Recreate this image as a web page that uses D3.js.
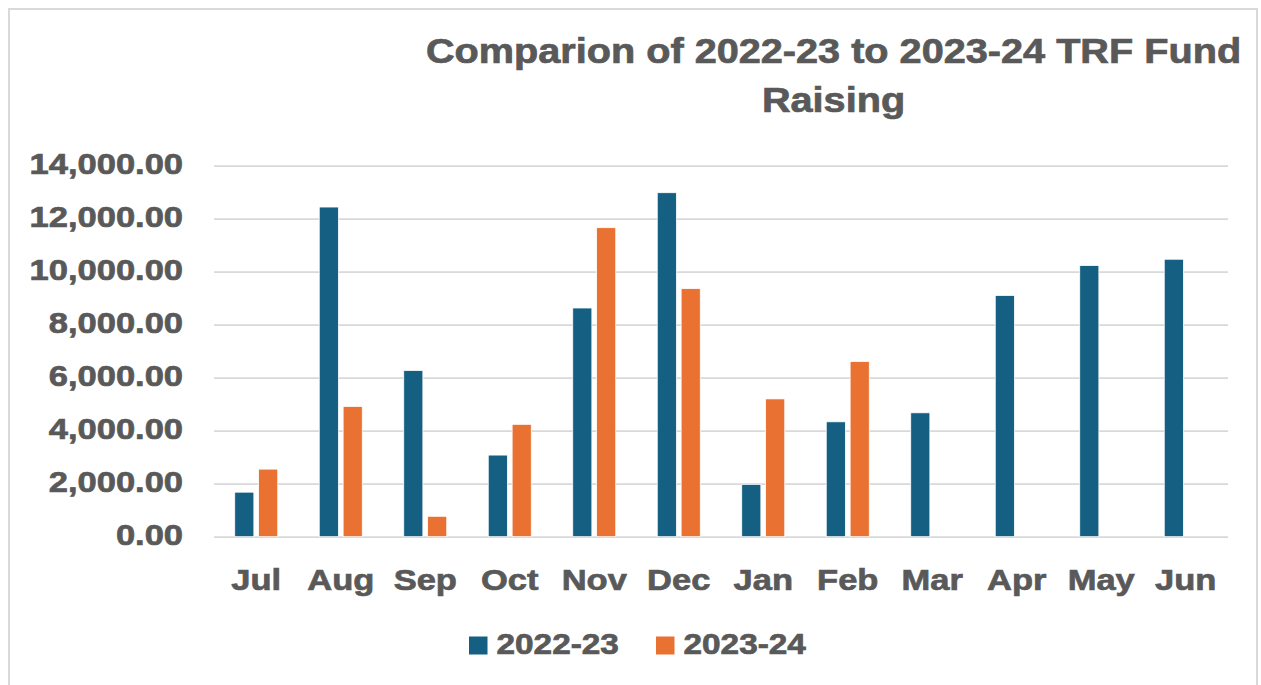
<!DOCTYPE html>
<html>
<head>
<meta charset="utf-8">
<script src="https://cdn.jsdelivr.net/npm/d3@7"></script>
<style>
  html, body { margin: 0; padding: 0; background: #fff; }
  text { font-family: "Liberation Sans", Arial, sans-serif; font-weight: bold; fill: #595959;
         stroke: #595959; stroke-width: 0.7px; }
</style>
</head>
<body>
<div id="chart"></div>
<script>
// data
const months = ["Jul", "Aug", "Sep", "Oct", "Nov", "Dec", "Jan", "Feb", "Mar", "Apr", "May", "Jun"];
const seriesNames = ["2022-23", "2023-24"];
const values2223 = [1680, 12440, 6270, 3080, 8630, 12980, 1975, 4335, 4675, 9100, 10230, 10470];
const values2324 = [2550, 4915, 770, 4240, 11660, 9360, 5200, 6610, null, null, null, null];
const yTicks = [0, 2000, 4000, 6000, 8000, 10000, 12000, 14000];
const titleLines = ["Comparion of 2022-23 to 2023-24 TRF Fund", "Raising"];

const colors = ["#156082", "#E97132"];
const W = 1261, H = 685;
const plot = { left: 214, right: 1228, top: 165.7, bottom: 536.7 };
const stretchX = 1.15; // text in the reference is a bit wider than Arial

const svg = d3.select("#chart")
    .append("svg")
    .attr("width", W)
    .attr("height", H);

// chart border
svg.append("rect")
    .attr("x", 9).attr("y", 9)
    .attr("width", 1248).attr("height", 700)
    .attr("fill", "#fff")
    .attr("stroke", "#d9d9d9")
    .attr("stroke-width", 2);

// stretch text horizontally around its anchor point
function stretch(sel) {
    sel.each(function() {
        const t = d3.select(this);
        const x = +t.attr("x") || 0, y = +t.attr("y") || 0;
        t.attr("x", 0).attr("y", 0)
            .attr("transform", `translate(${x},${y}) scale(${stretchX},1)`);
    });
}

const x0 = d3.scaleBand()
    .domain(months)
    .range([plot.left, plot.right])
    .padding(0);

const x1 = d3.scaleBand()
    .domain(seriesNames)
    .range([0, 43])
    .paddingInner(0.2);

const y = d3.scaleLinear()
    .domain([0, 14000])
    .range([plot.bottom, plot.top]);

// Y axis with gridlines
const yAxis = svg.append("g")
    .attr("transform", `translate(${plot.left},0)`)
    .call(d3.axisLeft(y)
        .tickValues(yTicks)
        .tickFormat(d3.format(",.2f"))
        .tickSize(-(plot.right - plot.left))
        .tickPadding(31));
yAxis.select(".domain").remove();
yAxis.selectAll(".tick line")
    .attr("stroke", "#d9d9d9")
    .attr("stroke-width", 1.75);
yAxis.selectAll(".tick text")
    .attr("font-size", 30)
    .attr("dy", "0.25em")
    .attr("fill", "#595959")
    .call(stretch);

// X axis labels
const xAxis = svg.append("g")
    .attr("transform", `translate(0,${plot.bottom})`)
    .call(d3.axisBottom(x0).tickSize(0).tickPadding(32));
xAxis.select(".domain").remove();
xAxis.selectAll(".tick text")
    .attr("font-size", 30)
    .attr("fill", "#595959")
    .call(stretch);

// bars
const groupOffset = (x0.bandwidth() - 43) / 2;
const rows = months.map((m, i) => ({ month: m, vals: [values2223[i], values2324[i]] }));

const groups = svg.append("g")
    .selectAll("g")
    .data(rows)
    .enter()
    .append("g")
    .attr("transform", d => `translate(${x0(d.month) + groupOffset},0)`);

groups.selectAll("rect")
    .data(d => d.vals.map((v, j) => ({ key: seriesNames[j], value: v, c: colors[j] })).filter(e => e.value != null))
    .enter()
    .append("rect")
    .attr("x", d => x1(d.key))
    .attr("y", d => y(d.value))
    .attr("width", x1.bandwidth())
    .attr("height", d => y(0) - y(d.value))
    .attr("fill", d => d.c)
    .attr("stroke", "#ffffff")
    .attr("stroke-width", 0.75);

// title
svg.append("g")
    .selectAll("text")
    .data(titleLines)
    .enter()
    .append("text")
    .attr("x", 833.5)
    .attr("y", (d, i) => 63 + i * 49)
    .attr("text-anchor", "middle")
    .attr("font-size", 34.5)
    .text(d => d)
    .call(stretch);

// legend
const legend = svg.append("g")
    .selectAll("g")
    .data(seriesNames)
    .enter()
    .append("g")
    .attr("transform", (d, i) => `translate(${469 + i * 187},0)`);
legend.append("rect")
    .attr("x", 0).attr("y", 636.5)
    .attr("width", 18.5).attr("height", 18)
    .attr("fill", (d, i) => colors[i]);
legend.append("text")
    .attr("x", 27.5)
    .attr("y", 653.5)
    .attr("font-size", 29)
    .text(d => d)
    .call(stretch);
</script>
</body>
</html>
